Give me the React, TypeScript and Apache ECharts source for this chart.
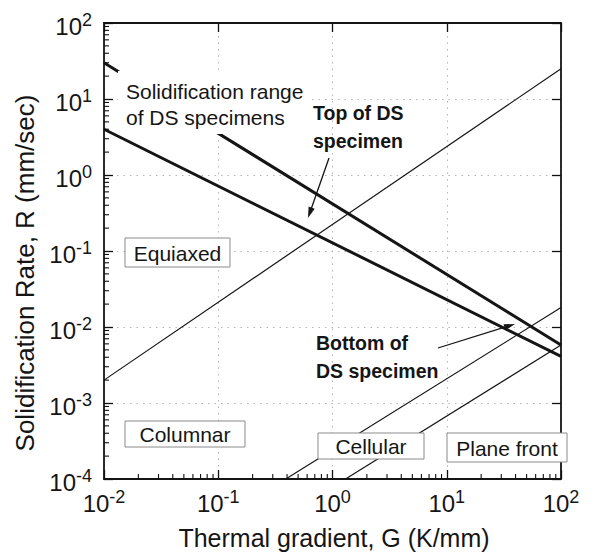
import React, { useEffect, useRef } from "react";
import * as echarts from "echarts";

// ---- axis ranges & ticks ----
const xRange = [0.01, 100];
const yRange = [1e-4, 100];
const xMinorTicks = [
  0.02, 0.03, 0.04, 0.05, 0.06, 0.07, 0.08, 0.09,
  0.2, 0.3, 0.4, 0.5, 0.6, 0.7, 0.8, 0.9,
  2, 3, 4, 5, 6, 7, 8, 9,
  20, 30, 40, 50, 60, 70, 80, 90,
];
const yMinorTicks = [
  0.0002, 0.0003, 0.0004, 0.0005, 0.0006, 0.0007, 0.0008, 0.0009,
  0.002, 0.003, 0.004, 0.005, 0.006, 0.007, 0.008, 0.009,
  0.02, 0.03, 0.04, 0.05, 0.06, 0.07, 0.08, 0.09,
  0.2, 0.3, 0.4, 0.5, 0.6, 0.7, 0.8, 0.9,
  2, 3, 4, 5, 6, 7, 8, 9,
  20, 30, 40, 50, 60, 70, 80, 90,
];

// ---- series (G in K/mm, R in mm/sec) ----
const columnarEquiaxedG = [0.01, 100];
const columnarEquiaxedR = [0.002, 25];
const bottomDsG = [0.01, 100];
const bottomDsR = [4.0, 0.0041];
const topDsG = [0.01, 100];
const topDsR = [30, 0.0058];
const cellularG = [0.39, 100];
const cellularR = [0.0001, 0.018];
const planeFrontG = [1.3, 100];
const planeFrontR = [0.0001, 0.0058];

const FONT = '"Liberation Sans", Arial, Helvetica, sans-serif';
const INK = "#151515";
const TICK = "#111111";

const pairs = (g: number[], r: number[]) => g.map((v, i) => [v, r[i]]);

function arrow(x1: number, y1: number, x2: number, y2: number, head = 11, half = 3.2, lw = 1.3) {
  const dx = x2 - x1, dy = y2 - y1, L = Math.hypot(dx, dy);
  const ux = dx / L, uy = dy / L;
  const bx = x2 - ux * head, by = y2 - uy * head;
  const px = -uy, py = ux;
  return [
    { type: "line", z: 60, shape: { x1, y1, x2: bx + ux * 2, y2: by + uy * 2 }, style: { stroke: INK, lineWidth: lw } },
    {
      type: "polygon", z: 60,
      shape: { points: [[x2, y2], [bx + px * half, by + py * half], [bx - px * half, by - py * half]] },
      style: { fill: INK },
    },
  ];
}

function boxLabel(text: string, x: number, y: number, w: number, h: number) {
  return [
    { type: "rect", z: 70, shape: { x, y, width: w, height: h }, style: { fill: "#fff", stroke: "#8a8a8a", lineWidth: 1 } },
    {
      type: "text", z: 71, x: x + w / 2, y: y + h / 2 + 0.5,
      style: { text, font: `21px ${FONT}`, fill: INK, align: "center", verticalAlign: "middle" },
    },
  ];
}

const labelFormatter = (v: number) => `{b|10}{s|${Math.round(Math.log10(v))}}`;
const labelRich = () => ({
  b: { fontSize: 24, lineHeight: 30, fontFamily: FONT, color: INK },
  s: { fontSize: 18, lineHeight: 20, verticalAlign: "top", fontFamily: FONT, color: INK },
});

const frameLine = () => ({ show: true, lineStyle: { color: INK, width: 1.8 } });
const majorTick = () => ({ show: true, inside: true, length: 9, lineStyle: { color: TICK, width: 1.3 } });

export default function App() {
  const ref = useRef<HTMLDivElement>(null);
  useEffect(() => {
    const chart = echarts.init(ref.current!, null, { renderer: "svg" });
    const lineSeries = (name: string, data: number[][], width: number) => ({
      name, type: "line", data, symbol: "none", showSymbol: false,
      lineStyle: { color: INK, width }, silent: true, z: 3,
    });
    // minor ticks, placed through the axes' own log scales
    const minorTickSeries = (data: number[][], dir: "x" | "y") => ({
      type: "custom", silent: true, z: 10, clip: false,
      data,
      renderItem: (_p: any, api: any) => {
        const pt = api.coord([api.value(0), api.value(1)]);
        const len = 5;
        return {
          type: "line",
          shape: dir === "x"
            ? { x1: pt[0], y1: pt[1], x2: pt[0], y2: pt[1] - len }
            : { x1: pt[0], y1: pt[1], x2: pt[0] + len, y2: pt[1] },
          style: { stroke: TICK, lineWidth: 1.1 },
        };
      },
    });
    const option: any = {
      animation: false,
      backgroundColor: "#fff",
      grid: { left: 104, top: 23, right: 34, bottom: 79 },
      xAxis: [
        {
          type: "log", logBase: 10, min: xRange[0], max: xRange[1], position: "bottom",
          axisLine: frameLine(),
          axisTick: majorTick(),
          axisLabel: { show: true, margin: 9, formatter: labelFormatter, rich: labelRich() },
          splitLine: { show: true, lineStyle: { color: "#b5b5b5", width: 1, type: [1.5, 5] } },
        },
        {
          type: "log", logBase: 10, min: xRange[0], max: xRange[1], position: "top",
          axisLine: frameLine(),
          axisTick: majorTick(),
          axisLabel: { show: false },
          splitLine: { show: false },
        },
      ],
      yAxis: [
        {
          type: "log", logBase: 10, min: yRange[0], max: yRange[1], position: "left",
          axisLine: frameLine(),
          axisTick: majorTick(),
          axisLabel: { show: true, margin: 12, padding: [6, 0, 0, 0], formatter: labelFormatter, rich: labelRich() },
          splitLine: { show: true, lineStyle: { color: "#b5b5b5", width: 1, type: [1.5, 5] } },
        },
        {
          type: "log", logBase: 10, min: yRange[0], max: yRange[1], position: "right",
          axisLine: frameLine(),
          axisTick: majorTick(),
          axisLabel: { show: false },
          splitLine: { show: false },
        },
      ],
      series: [
        lineSeries("Columnar/Equiaxed", pairs(columnarEquiaxedG, columnarEquiaxedR), 1.2),
        lineSeries("Bottom of DS specimen", pairs(bottomDsG, bottomDsR), 3),
        lineSeries("Top of DS specimen", pairs(topDsG, topDsR), 3),
        lineSeries("Cellular/Dendritic", pairs(cellularG, cellularR), 1.2),
        lineSeries("Plane front/Cellular", pairs(planeFrontG, planeFrontR), 1.2),
        minorTickSeries(xMinorTicks.map((v) => [v, yRange[0]]), "x"),
        minorTickSeries(yMinorTicks.map((v) => [xRange[0], v]), "y"),
      ],
      graphic: [
        {
          type: "text", x: 334, y: 538, z: 80,
          style: { text: "Thermal gradient, G (K/mm)", font: `25px ${FONT}`, fill: INK, align: "center", verticalAlign: "middle" },
        },
        {
          type: "text", x: 25, y: 273, rotation: Math.PI / 2, z: 80,
          style: { text: "Solidification Rate, R (mm/sec)", font: `26px ${FONT}`, fill: INK, align: "center", verticalAlign: "middle" },
        },
        { type: "rect", z: 50, shape: { x: 118, y: 71, width: 190, height: 63 }, style: { fill: "#fff" } },
        {
          type: "text", x: 126, y: 78, z: 51,
          style: { text: "Solidification range\nof DS specimens", font: `21px ${FONT}`, lineHeight: 26, fill: INK, align: "left", verticalAlign: "top" },
        },
        {
          type: "text", x: 313, y: 99, z: 51,
          style: { text: "Top of DS\nspecimen", font: `bold 19.5px ${FONT}`, lineHeight: 28, fill: INK, align: "left", verticalAlign: "top" },
        },
        {
          type: "text", x: 316, y: 329, z: 51,
          style: { text: "Bottom of\nDS specimen", font: `bold 19.5px ${FONT}`, lineHeight: 28, fill: INK, align: "left", verticalAlign: "top" },
        },
        ...arrow(329, 158, 308, 218),
        ...arrow(438, 348, 515, 324),
        ...boxLabel("Equiaxed", 125, 238, 105, 29),
        ...boxLabel("Columnar", 125, 421, 120, 26),
        ...boxLabel("Cellular", 318, 433, 106, 26),
        ...boxLabel("Plane front", 447, 433, 120, 29),
      ],
    };
    chart.setOption(option);
    return () => chart.dispose();
  }, []);
  return <div ref={ref} style={{ position: "absolute", left: 0, top: 0, width: 595, height: 558 }} />;
}
